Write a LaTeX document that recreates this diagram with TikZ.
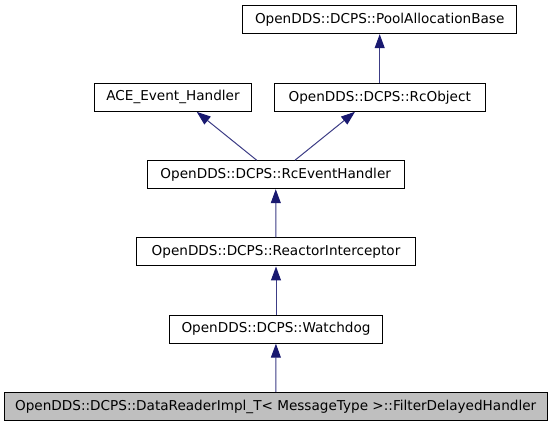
\documentclass[tikz,border=0pt]{standalone}
\usepackage{fontspec}
\setmainfont{DejaVu Sans}
\usetikzlibrary{arrows.meta}
\definecolor{edgeblue}{RGB}{25,25,112}
\definecolor{leafgray}{RGB}{191,191,191}
\begin{document}
\begin{tikzpicture}[x=1pt,y=-1pt,
        classbox/.style={draw=black,line width=1pt,fill=white,minimum height=28pt,inner sep=0pt,font=\fontsize{13.6}{15}\selectfont},
        inherit/.style={draw=edgeblue!85,line width=1pt,-{Triangle[length=14pt,width=10pt,fill=edgeblue,color=edgeblue]}}]
        \useasboundingbox (0,0) rectangle (552,427);
        \node[classbox,minimum width=274pt] (pool) at (379.7,19.7) {OpenDDS::DCPS::PoolAllocationBase};
        \node[classbox,minimum width=156.6pt] (ace) at (173,97.3) {ACE\_Event\_Handler};
        \node[classbox,minimum width=211.3pt] (rcobj) at (379.7,97.3) {OpenDDS::DCPS::RcObject};
        \node[classbox,minimum width=256.7pt] (rceh) at (275.7,174.7) {OpenDDS::DCPS::RcEventHandler};
        \node[classbox,minimum width=278.6pt] (reactor) at (276,252) {OpenDDS::DCPS::ReactorInterceptor};
        \node[classbox,minimum width=213.4pt] (watchdog) at (276,329.2) {OpenDDS::DCPS::Watchdog};
        \node[classbox,minimum width=543.3pt,fill=leafgray] (filter) at (275.7,406.5) {OpenDDS::DCPS::DataReaderImpl\_T< MessageType >::FilterDelayedHandler};
        \draw[inherit] (rcobj) -- (pool);
        \draw[inherit] ([xshift=-19pt]rceh.north) -- ([xshift=23.7pt]ace.south);
        \draw[inherit] ([xshift=19.3pt]rceh.north) -- ([xshift=-24.7pt]rcobj.south);
        \draw[inherit] (reactor) -- (rceh);
        \draw[inherit] (watchdog) -- (reactor);
        \draw[inherit] (filter) -- (watchdog);
    \end{tikzpicture}
\end{document}
